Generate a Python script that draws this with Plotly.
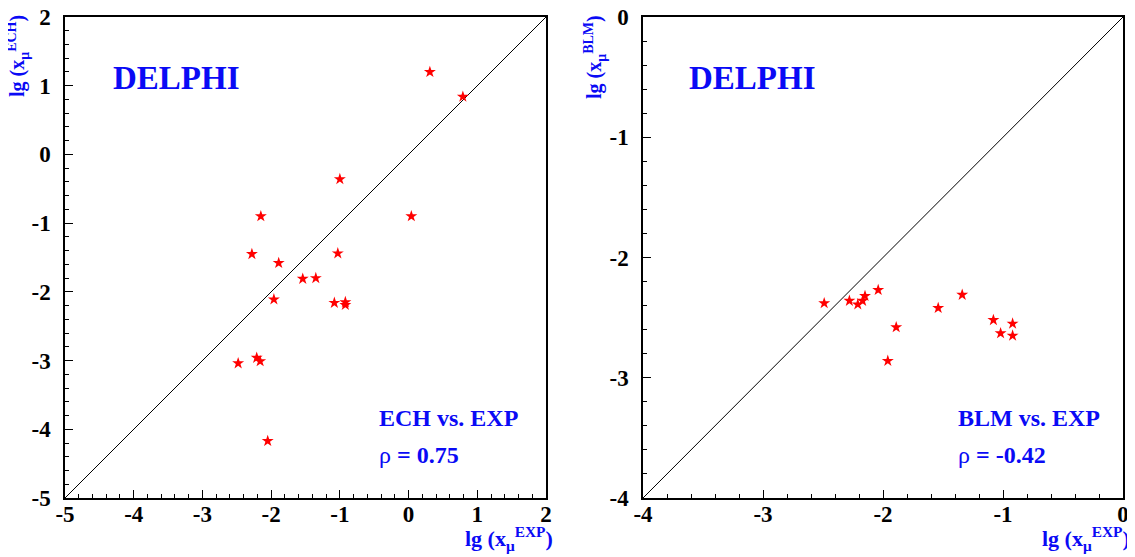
import plotly.graph_objects as go

# page body has an 8px default margin, so the figure is drawn 8px in from the corner
OFF = 8
W, H = 1135 - OFF, 557 - OFF

# Left panel: ECH vs EXP
ech_exp_x = [0.31, 0.79, -1.00, -2.15, 0.04, -2.28, -1.03, -1.89, -1.54, -1.35,
             -1.96, -1.08, -0.92, -0.92, -2.48, -2.21, -2.16, -2.05]
ech_y = [1.20, 0.84, -0.36, -0.90, -0.90, -1.45, -1.44, -1.58, -1.81, -1.80,
         -2.11, -2.16, -2.15, -2.19, -3.04, -2.96, -3.01, -4.17]

# Right panel: BLM vs EXP
blm_exp_x = [-2.49, -2.28, -2.21, -2.17, -2.15, -2.04, -1.89, -1.96, -1.54, -1.34,
             -1.08, -0.92, -1.02, -0.92]
blm_y = [-2.38, -2.36, -2.39, -2.36, -2.32, -2.27, -2.58, -2.86, -2.42, -2.31,
         -2.52, -2.55, -2.63, -2.65]

left_range = [-5, 2]
right_range = [-4, 0]
left_ticks = [-5, -4, -3, -2, -1, 0, 1, 2]
left_ticktext = ["-5", "-4", "-3", "-2", "-1", "0", "1", "2"]
right_ticks = [-4, -3, -2, -1, 0]
right_ticktext = ["-4", "-3", "-2", "-1", "0"]

BLUE = "#0a0af5"
SERIF = "Liberation Serif, Times New Roman, serif"


def fx(px):
    return (px - OFF) / W


def fy(py):
    return 1 - (py - OFF) / H


fig = go.Figure()

fig.add_trace(go.Scatter(x=left_range, y=left_range, mode="lines",
                         line=dict(color="black", width=1), xaxis="x", yaxis="y",
                         showlegend=False, hoverinfo="skip"))
fig.add_trace(go.Scatter(x=ech_exp_x, y=ech_y, mode="markers",
                         marker=dict(symbol="star", size=9, color="red"),
                         xaxis="x", yaxis="y", showlegend=False))
fig.add_trace(go.Scatter(x=right_range, y=right_range, mode="lines",
                         line=dict(color="black", width=1), xaxis="x2", yaxis="y2",
                         showlegend=False, hoverinfo="skip"))
fig.add_trace(go.Scatter(x=blm_exp_x, y=blm_y, mode="markers",
                         marker=dict(symbol="star", size=9, color="red"),
                         xaxis="x2", yaxis="y2", showlegend=False))

ydom = [fy(498), fy(17)]
tickfont = dict(family=SERIF, size=23, color="black", weight="bold")


def axis(dom, rng, tv, tt, anchor):
    return dict(domain=dom, range=rng, tickmode="array", tickvals=tv, ticktext=tt,
                ticks="inside", ticklen=8, tickwidth=1, tickcolor="black",
                minor=dict(tickmode="linear", tick0=0, dtick=0.2, ticks="inside",
                           ticklen=4, tickwidth=1, tickcolor="black"),
                showline=True, linecolor="black", linewidth=1.5, mirror=True,
                showgrid=False, zeroline=False, tickfont=tickfont, anchor=anchor,
                automargin=False, fixedrange=True, ticklabeloverflow="allow")


fig.update_layout(
    width=W, height=H,
    margin=dict(l=0, r=0, t=0, b=0, autoexpand=False),
    paper_bgcolor="white", plot_bgcolor="white",
    xaxis=axis([fx(65), fx(546)], left_range, left_ticks, left_ticktext, "y"),
    yaxis=axis(ydom, left_range, left_ticks, left_ticktext, "x"),
    xaxis2=axis([fx(643), fx(1123)], right_range, right_ticks, right_ticktext, "y2"),
    yaxis2=axis(ydom, right_range, right_ticks, right_ticktext, "x2"),
)
fig.layout.yaxis.ticklabelstandoff = 8
fig.layout.yaxis2.ticklabelstandoff = 8
fig.layout.xaxis.ticklabelstandoff = -5
fig.layout.xaxis2.ticklabelstandoff = -5


def ann(text, px, py, size, angle=0, xanchor="center", weight="bold"):
    fig.add_annotation(text=text, x=fx(px), y=fy(py), xref="paper", yref="paper",
                       xanchor=xanchor, yanchor="middle", showarrow=False,
                       textangle=angle,
                       font=dict(family=SERIF, size=size, color=BLUE, weight=weight))


ann("DELPHI", 176, 78, 33)
ann("DELPHI", 753, 78, 33)
ann("ECH vs. EXP", 377, 418, 24, xanchor="left")
ann("ρ <b>= 0.75</b>", 377, 455, 24, xanchor="left", weight="normal")
ann("BLM vs. EXP", 956, 418, 24, xanchor="left")
ann("ρ <b>= -0.42</b>", 956, 455, 24, xanchor="left", weight="normal")
ann("lg (x<sub>μ</sub><sup>EXP</sup>)", 509, 538, 22)
ann("lg (x<sub>μ</sub><sup>EXP</sup>)", 1086, 538, 22)
ann("lg (x<sub>μ</sub><sup>ECH</sup>)", 18, 56, 20, angle=-90)
ann("lg (x<sub>μ</sub><sup>BLM</sup>)", 595, 57, 20, angle=-90)

fig.write_html("out.html")
